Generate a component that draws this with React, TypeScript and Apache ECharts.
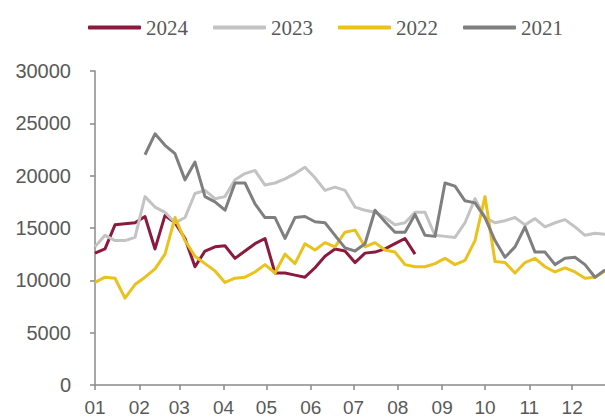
import React, { useEffect, useRef } from 'react';
import * as echarts from 'echarts';

// Month tick labels and the day of year on which each month starts
const monthLabels = ['01', '02', '03', '04', '05', '06', '07', '08', '09', '10', '11', '12'];
const monthStartDays = [0, 31, 59, 90, 120, 151, 181, 212, 243, 273, 304, 334];

const seriesNames = ['2024', '2023', '2022', '2021'];

// Weekly values (week index = position in array)
const s2024 = [
  12600, 13000, 15300, 15400, 15500, 16100, 13000, 16200, 15500, 14000,
  11300, 12800, 13200, 13300, 12100, 12800, 13500, 14000, 10700, 10700,
  10500, 10300, 11200, 12300, 13000, 12800, 11700, 12600, 12700, 13000,
  13500, 14000, 12500,
];
const s2023 = [
  13200, 14300, 13800, 13800, 14100, 18000, 17000, 16500, 15500, 16000,
  18300, 18600, 17800, 18000, 19600, 20200, 20500, 19100, 19300, 19700,
  20200, 20800, 19800, 18600, 18900, 18600, 17000, 16700, 16500, 16000,
  15300, 15500, 16500, 16500, 14300, 14200, 14100, 15500, 17800, 16000,
  15500, 15700, 16000, 15300, 15900, 15100, 15500, 15800, 15100, 14300,
  14500, 14400,
];
const s2022 = [
  9800, 10300, 10200, 8300, 9600, 10300, 11100, 12500, 16000, 13800,
  12300, 11600, 10900, 9800, 10200, 10300, 10800, 11500, 10700, 12500,
  11600, 13500, 12900, 13600, 13200, 14600, 14800, 13200, 13600, 12900,
  12700, 11500, 11300, 11300, 11600, 12100, 11500, 11900, 13800, 18000,
  11800, 11700, 10700, 11700, 12100, 11300, 10800, 11200, 10800, 10200,
  10300, 10900,
];
const s2021 = [
  null, null, null, null, null, 22000, 24000, 22900, 22100, 19600,
  21300, 18000, 17500, 16700, 19300, 19300, 17300, 16000, 16000, 14000,
  16000, 16100, 15600, 15500, 14300, 13100, 12800, 13500, 16700, 15600,
  14600, 14600, 16300, 14300, 14200, 19300, 19000, 17600, 17400, 16000,
  13800, 12200, 13200, 15100, 12700, 12700, 11500, 12100, 12200, 11500,
  10300, 11000,
];

const seriesValues = [s2024, s2023, s2022, s2021];
const seriesColors = ['#8C1A3C', '#C3C3C3', '#EBC11C', '#7F7F7F'];

const toPoints = (arr: (number | null)[]) =>
  arr.map((v, i) => [i, v]).filter((p) => p[1] !== null);

export default function App() {
  const ref = useRef<HTMLDivElement>(null);
  useEffect(() => {
    document.body.style.margin = '0';
    if (!ref.current) return;
    const chart = echarts.init(ref.current, undefined, { renderer: 'svg' });
    const tickWeeks = monthStartDays.map((d) => d / 7);
    chart.setOption({
      animation: false,
      backgroundColor: '#ffffff',
      legend: {
        left: 83,
        top: 12,
        itemWidth: 53,
        itemHeight: 4,
        itemGap: 25,
        icon: 'roundRect',
        data: seriesNames,
        textStyle: { fontFamily: 'Liberation Serif', fontSize: 21, color: '#595959' },
      },
      grid: { left: 95, right: -10, top: 71, bottom: 33, outerBoundsMode: 'none' },
      xAxis: {
        type: 'value',
        min: 0,
        max: 52,
        splitLine: { show: false },
        axisLine: { show: true, lineStyle: { color: '#8a8a8a', width: 1.5 } },
        axisTick: {
          show: true,
          length: 5,
          customValues: tickWeeks,
          lineStyle: { color: '#8a8a8a', width: 1.5 },
        },
        axisLabel: {
          customValues: tickWeeks,
          margin: 13,
          fontFamily: 'Liberation Sans',
          fontSize: 19,
          lineHeight: 18,
          color: '#595959',
          formatter: (v: number) => {
            const idx = tickWeeks.findIndex((t) => Math.abs(t - v) < 1e-6);
            return idx >= 0 ? monthLabels[idx] : '';
          },
        },
      },
      yAxis: {
        type: 'value',
        min: 0,
        max: 30000,
        interval: 5000,
        splitLine: { show: false },
        axisLine: { show: true, lineStyle: { color: '#8a8a8a', width: 1.5 } },
        axisTick: { show: true, length: 5, lineStyle: { color: '#8a8a8a', width: 1.5 } },
        axisLabel: {
          margin: 24,
          fontFamily: 'Liberation Sans',
          fontSize: 20,
          color: '#595959',
          formatter: (v: number) => String(v),
        },
      },
      series: seriesNames.map((name, k) => ({
        name,
        type: 'line',
        data: toPoints(seriesValues[k]),
        showSymbol: false,
        symbol: 'none',
        color: seriesColors[k],
        lineStyle: { width: 3, color: seriesColors[k], join: 'round' },
      })),
    });
    return () => chart.dispose();
  }, []);
  return <div ref={ref} style={{ width: 605, height: 418 }} />;
}
